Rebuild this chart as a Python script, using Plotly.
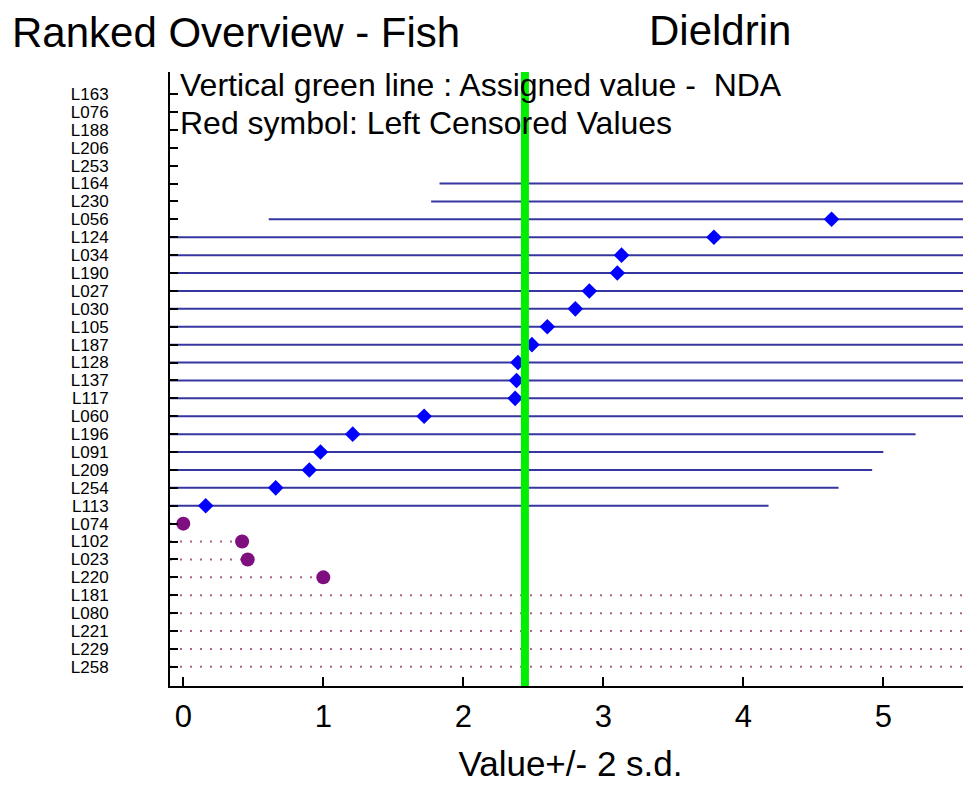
import plotly.graph_objects as go

# ---------------- data ----------------
lab_order = ["163", "076", "188", "206", "253", "164", "230", "056", "124", "034",
             "190", "027", "030", "105", "187", "128", "137", "117", "060", "196",
             "091", "209", "254", "113", "074", "102", "023", "220", "181", "080",
             "221", "229", "258"]

quant_labs = ["164", "230", "056", "124", "034", "190", "027", "030", "105", "187",
              "128", "137", "117", "060", "196", "091", "209", "254", "113"]
quant_values = [5.85, 5.79, 4.63, 3.79, 3.13, 3.10, 2.90, 2.80, 2.60, 2.49,
                2.39, 2.38, 2.37, 1.72, 1.21, 0.98, 0.90, 0.66, 0.16]
two_sd = 4.02

cens_labs = ["074", "102", "023", "220", "181", "080", "221", "229", "258"]
cens_values = [0.00, 0.42, 0.46, 1.00, 6.0, 6.0, 6.5, 7.0, 8.0]

assigned_value = 2.44
x_range = [-0.095, 5.626]
x_ticks = [0, 1, 2, 3, 4, 5]

# ---------------- figure ----------------
fig = go.Figure()

# value +/- 2 s.d. lines
bx, by = [], []
for lab, v in zip(quant_labs, quant_values):
    bx += [v - two_sd, v + two_sd, None]
    by += [lab, lab, None]
fig.add_trace(go.Scatter(x=bx, y=by, mode="lines",
                         line=dict(color="#3636a0", width=2),
                         hoverinfo="skip", showlegend=False))

# left censored dotted lines
rx, ry = [], []
for lab, v in zip(cens_labs, cens_values):
    rx += [x_range[0], v, None]
    ry += [lab, lab, None]
fig.add_trace(go.Scatter(x=rx, y=ry, mode="lines",
                         line=dict(color="#b0608a", width=2, dash="2px,8px"),
                         hoverinfo="skip", showlegend=False))

# markers
fig.add_trace(go.Scatter(x=quant_values, y=quant_labs, mode="markers",
                         marker=dict(symbol="diamond", size=12, color="#0000ff",
                                     line=dict(width=0)),
                         showlegend=False))
fig.add_trace(go.Scatter(x=cens_values, y=cens_labs, mode="markers",
                         marker=dict(symbol="circle", size=14, color="#7f0f7f",
                                     line=dict(width=0)),
                         showlegend=False))

# assigned value line
fig.add_shape(type="line", xref="x", yref="paper",
              x0=assigned_value, x1=assigned_value, y0=0, y1=1,
              line=dict(color="#00ee00", width=8), layer="above")

W, H = 963, 777  # page has an 8px body margin

fig.update_layout(
    width=W, height=H,
    margin=dict(l=162, r=0, t=64, b=99),
    paper_bgcolor="white", plot_bgcolor="white",
    font=dict(family="Liberation Sans, Arial, sans-serif", color="black"),
    title=dict(text="Ranked Overview - Fish", xref="container", yref="container",
               x=4 / W, xanchor="left", y=1 - 24 / H, yanchor="middle",
               font=dict(size=42, color="black")),
    xaxis=dict(range=x_range, tickvals=x_ticks, ticks="inside", ticklen=9,
               tickwidth=2, tickcolor="black", showline=True, linecolor="black",
               linewidth=2, showgrid=False, zeroline=False, automargin=False,
               tickfont=dict(size=31), ticklabelstandoff=2,
               title=dict(text="Value+/- 2 s.d.", font=dict(size=35), standoff=18)),
    yaxis=dict(type="category", categoryorder="array", categoryarray=lab_order,
               range=[33.07, -1.23], tickvals=lab_order,
               ticktext=["L" + l for l in lab_order],
               ticks="inside", ticklen=8, tickwidth=2, tickcolor="black",
               showline=True, linecolor="black", linewidth=2, showgrid=False,
               zeroline=False, automargin=False, ticklabelstandoff=56,
               tickfont=dict(family="Liberation Sans, Arial", size=17)),
    annotations=[
        dict(text="Dieldrin", xref="paper", yref="paper", x=0.6866, y=1.0684,
             xanchor="center", yanchor="middle", showarrow=False,
             font=dict(size=42)),
        dict(text="Vertical green line : Assigned value -  NDA", xref="paper",
             yref="paper", x=0.01, y=0.979, xanchor="left", yanchor="middle",
             showarrow=False, font=dict(size=32)),
        dict(text="Red symbol: Left Censored Values", xref="paper",
             yref="paper", x=0.01, y=0.917, xanchor="left", yanchor="middle",
             showarrow=False, font=dict(size=32)),
    ],
)

fig.write_html("out.html")
